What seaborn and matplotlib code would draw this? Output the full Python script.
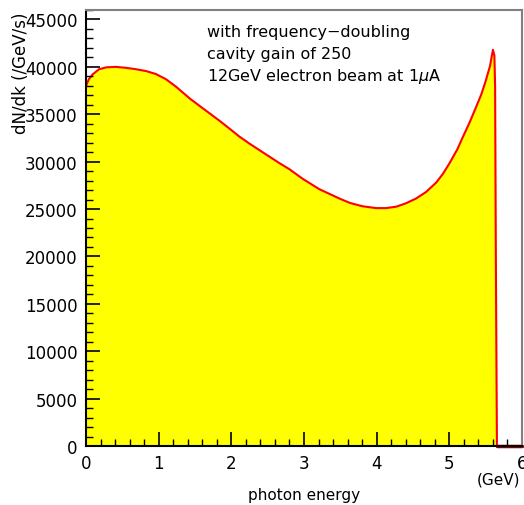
import numpy as np
import pandas as pd
import matplotlib
matplotlib.use("Agg")
import matplotlib.pyplot as plt
from matplotlib.ticker import MultipleLocator
import seaborn as sns

# photon energy (GeV) and dN/dk (/GeV/s)
energy = [0.0, 0.04, 0.09, 0.18, 0.28, 0.41, 0.55, 0.69, 0.83, 0.96, 1.10,
          1.24, 1.43, 1.56, 1.70, 1.84, 1.98, 2.11, 2.25, 2.39, 2.53, 2.66,
          2.80, 2.98, 3.21, 3.35, 3.49, 3.63, 3.80, 3.99, 4.13, 4.27, 4.40,
          4.54, 4.68, 4.82, 4.91, 5.00, 5.11, 5.18, 5.28, 5.37, 5.44, 5.50,
          5.56, 5.60, 5.62, 5.63, 5.64, 5.655]
rate = [38000, 38700, 39200, 39750, 39950, 40000, 39900, 39750, 39550, 39250,
        38700, 37900, 36650, 35900, 35100, 34300, 33450, 32650, 31900, 31200,
        30500, 29850, 29200, 28200, 27100, 26600, 26100, 25650, 25300, 25100,
        25100, 25250, 25600, 26100, 26800, 27800, 28700, 29800, 31300, 32500,
        34150, 35800, 37100, 38500, 40100, 41800, 41200, 38000, 20000, 0]
tail_energy = [5.655, 6.0]
tail_rate = [0, 0]

annotation = ["with frequency\u2212doubling",
              "cavity gain of 250",
              "12GeV electron beam at 1$\\mu$A"]
x_title = "photon energy"
x_unit = "(GeV)"
y_title = "dN/dk (/GeV/s)"

df = pd.DataFrame({"energy": energy, "rate": rate})

sns.set_style("white")
plt.rcParams["font.family"] = ["DejaVu Sans"]
for k in ["text.color", "axes.labelcolor", "xtick.color", "ytick.color"]:
    plt.rcParams[k] = "black"

W, H = 524, 506
fig = plt.figure(figsize=(W / 100, H / 100), dpi=100)
ax = fig.add_axes([86 / W, 1 - 447 / H, (522 - 86) / W, (447 - 11) / H])
ax.set_axisbelow(False)

ax.fill_between(df["energy"], df["rate"], 0, color="#ffff00", linewidth=0, zorder=1)
sns.lineplot(data=df, x="energy", y="rate", ax=ax, color="#ff0000",
             linewidth=1.5, sort=False, zorder=2)
ax.plot(tail_energy, tail_rate, color="#8b0000", linewidth=2.5, zorder=2,
        clip_on=False)

ax.set_xlim(0, 6)
ax.set_ylim(0, 46000)
ax.xaxis.set_major_locator(MultipleLocator(1))
ax.xaxis.set_minor_locator(MultipleLocator(0.2))
ax.set_yticks(np.arange(0, 45001, 5000))
ax.yaxis.set_minor_locator(MultipleLocator(1000))
ax.tick_params(which="major", direction="in", length=10, width=1.2,
               color="black", labelsize=12, pad=6, labelcolor="black")
ax.tick_params(which="minor", direction="in", length=5, width=1.0,
               color="black")
ax.tick_params(axis="x", which="both", top=False, bottom=True)
ax.tick_params(axis="y", which="both", right=False, left=True)
ax.set_xlabel("")
ax.set_ylabel("")

for side in ["left", "bottom"]:
    ax.spines[side].set_color("black")
    ax.spines[side].set_linewidth(1.5)
for side in ["top", "right"]:
    ax.spines[side].set_color("#808080")
    ax.spines[side].set_linewidth(1.5)
for s in ax.spines.values():
    s.set_zorder(5)

# annotation
for i, line in enumerate(annotation):
    fig.text(207 / W, 1 - (33 + i * 22) / H, line, fontsize=11.5,
             ha="left", va="center", color="black")

fig.text(304 / W, 1 - 496 / H, x_title, fontsize=11, ha="center", va="center",
         color="black")
fig.text(520 / W, 1 - 480 / H, x_unit, fontsize=11, ha="right", va="center",
         color="black")
fig.text(21 / W, 1 - 12 / H, y_title, fontsize=12, rotation=90,
         ha="center", va="top", color="black")

fig.savefig("out.png", dpi=100)
